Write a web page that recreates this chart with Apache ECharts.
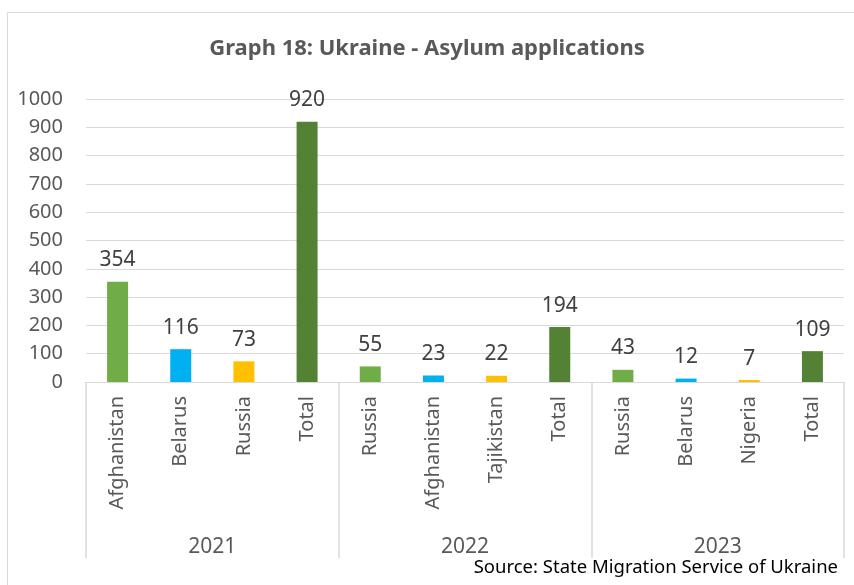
<!DOCTYPE html>
<html>
<head>
<meta charset="utf-8">
<script src="https://cdn.jsdelivr.net/npm/echarts@6/dist/echarts.min.js"></script>
<style>
  html, body { margin: 0; padding: 0; background: #fff; }
  #chart { width: 854px; height: 585px; }
</style>
</head>
<body>
<div id="chart"></div>
<script>
// countries per year, then totals
var countries = ['Afghanistan', 'Belarus', 'Russia', 'Total',
                 'Russia', 'Afghanistan', 'Tajikistan', 'Total',
                 'Russia', 'Belarus', 'Nigeria', 'Total']
var years = ['2021', '2022', '2023']
var values = [354, 116, 73, 920,
              55, 23, 22, 194,
              43, 12, 7, 109]
var yTicks = [0, 100, 200, 300, 400, 500, 600, 700, 800, 900, 1000]

// colour by slot inside each year group
var slotColors = ['#70AD47', '#00B0F0', '#FFC000', '#548235']

var chart = echarts.init(document.getElementById('chart'))
var textFont = '"Noto Sans", sans-serif'

var option = {
  backgroundColor: '#fff',
  animation: false,
  title: {
    text: 'Graph 18: Ukraine - Asylum applications',
    left: 'center',
    top: 33,
    textStyle: {
      color: '#595959',
      fontSize: 22,
      fontWeight: 'bold',
      fontFamily: textFont
    }
  },
  graphic: [
    {
      type: 'rect',
      shape: {x: 7.5, y: 12.5, width: 900, height: 700},
      style: {fill: 'none', stroke: '#d9d9d9', lineWidth: 1},
      silent: true
    },
    {
      type: 'text',
      right: 16,
      top: 558,
      style: {
        text: 'Source: State Migration Service of Ukraine',
        fill: '#000',
        font: '18.5px "Noto Sans", sans-serif'
      }
    }
  ],
  grid: {
    left: 86,
    right: 10,
    top: 99,
    bottom: 203
  },
  xAxis: [
    {
      type: 'category',
      data: countries,
      position: 'bottom',
      axisLine: {show: true, lineStyle: {color: '#d9d9d9', width: 1}},
      axisTick: {show: false},
      axisLabel: {
        rotate: 90,
        margin: 14,
        interval: 0,
        color: '#595959',
        fontSize: 20,
        fontFamily: textFont
      }
    },
    {
      type: 'category',
      data: years,
      position: 'bottom',
      axisLine: {show: false},
      axisTick: {show: true, length: 176, lineStyle: {color: '#d9d9d9', width: 1.5}},
      axisLabel: {
        margin: 155,
        color: '#595959',
        fontSize: 21,
        fontFamily: textFont
      }
    }
  ],
  yAxis: {
    type: 'value',
    min: yTicks[0],
    max: yTicks[yTicks.length - 1],
    interval: 100,
    axisLine: {show: false},
    axisTick: {show: false},
    splitLine: {show: true, lineStyle: {color: '#d9d9d9', width: 1}},
    axisLabel: {
      margin: 23,
      color: '#595959',
      fontSize: 20,
      fontFamily: textFont,
      formatter: function (v) { return String(v) }
    }
  },
  series: [{
    type: 'bar',
    xAxisIndex: 0,
    barWidth: 21,
    data: values,
    itemStyle: {
      color: function (p) { return slotColors[p.dataIndex % 4] }
    },
    label: {
      show: true,
      position: 'top',
      distance: 11,
      color: '#404040',
      fontSize: 21,
      fontFamily: textFont
    }
  }]
}

chart.setOption(option)
</script>
</body>
</html>
